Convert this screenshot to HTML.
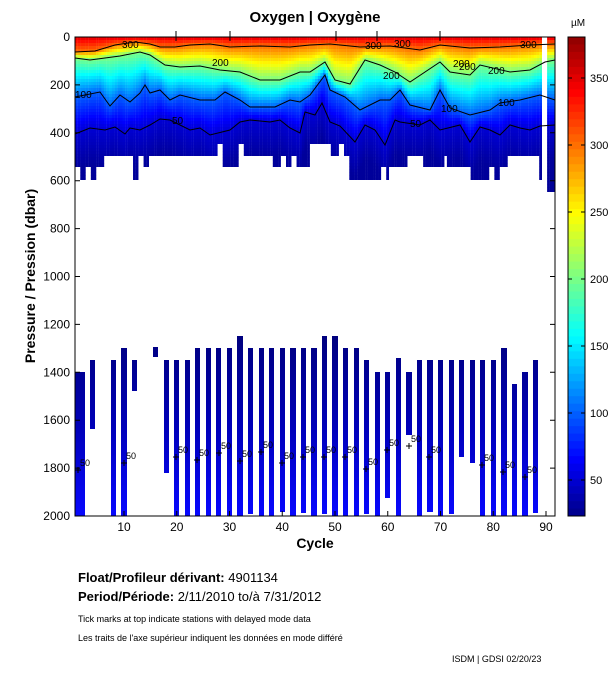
<!DOCTYPE html>
<html><head><meta charset="utf-8">
<style>
body{margin:0;background:#fff;width:611px;height:675px;overflow:hidden;font-family:"Liberation Sans",sans-serif;}
svg{position:absolute;left:0;top:0}
</style></head><body>
<svg id="s" width="611" height="675" xmlns="http://www.w3.org/2000/svg" font-family="Liberation Sans, sans-serif">
<defs>
<linearGradient id="bg" gradientUnits="userSpaceOnUse" x1="0" y1="336" x2="0" y2="516">
<stop offset="0" stop-color="#00007e"/><stop offset="0.5" stop-color="#0000b8"/><stop offset="1" stop-color="#0808ff"/>
</linearGradient>
</defs>
<g id="heat"></g>
<g id="bars" fill="url(#bg)"></g>
<g id="cont" fill="none" stroke="#000" stroke-width="1"></g>
<g id="cb"></g>
<rect x="75" y="37" width="480" height="479" fill="none" stroke="#000" stroke-width="1"/>
<rect x="568" y="37" width="17" height="479" fill="none" stroke="#000" stroke-width="1"/>
<g id="ticks" stroke="#000" stroke-width="1"></g>
<g font-size="12" fill="#000" id="lbl"></g>
<text x="315" y="22" font-size="15" font-weight="bold" text-anchor="middle">Oxygen | Oxygène</text>
<text x="578" y="26" font-size="10" text-anchor="middle">µM</text>
<text x="315" y="548" font-size="14" font-weight="bold" text-anchor="middle">Cycle</text>
<text transform="translate(35,276) rotate(-90)" font-size="14" font-weight="bold" text-anchor="middle">Pressure / Pression (dbar)</text>
<text x="78" y="582" font-size="13"><tspan font-weight="bold">Float/Profileur dérivant:</tspan> 4901134</text>
<text x="78" y="601" font-size="13"><tspan font-weight="bold">Period/Période:</tspan> 2/11/2010  to/à  7/31/2012</text>
<text x="78" y="622" font-size="9">Tick marks at top indicate stations with delayed mode data</text>
<text x="78" y="641" font-size="9">Les traits de l'axe supérieur indiquent les données en mode différé</text>
<text x="452" y="662" font-size="9">ISDM | GDSI  02/20/23</text>
</svg>
<script>
var NS="http://www.w3.org/2000/svg";
function el(p,t,a,txt){var e=document.createElementNS(NS,t);for(var k in a)e.setAttribute(k,a[k]);if(txt!==undefined)e.textContent=txt;document.getElementById(p).appendChild(e);return e;}
function jet(v){var t=(v-20)/365;t=Math.max(0,Math.min(1,t));function c(x){return Math.round(255*Math.max(0,Math.min(1,x)));}
return "rgb("+c(1.5-Math.abs(4*t-3))+","+c(1.5-Math.abs(4*t-2))+","+c(1.5-Math.abs(4*t-1))+")";}
var L300=[[75,52],[95,51],[115,45],[135,42],[150,44],[160,47],[175,47],[190,45],[210,44],[230,47],[260,46],[290,47],[310,45],[330,44],[360,47],[390,46],[420,50],[440,45],[470,48],[500,47],[530,45],[555,44]];
var L200=[[75,58],[90,60],[120,56],[140,52],[150,55],[165,65],[180,67],[200,66],[220,70],[240,72],[260,80],[280,80],[300,72],[310,72],[325,62],[335,80],[350,84],[365,60],[380,65],[395,72],[410,82],[440,62],[450,72],[470,75],[480,65],[510,72],[530,70],[545,62],[555,60]];
var L100=[[75,97],[100,92],[110,106],[120,95],[130,102],[140,93],[145,85],[150,93],[160,90],[170,100],[180,95],[200,100],[215,100],[225,92],[240,100],[250,107],[275,107],[290,100],[300,102],[310,95],[325,75],[330,90],[345,97],[360,110],[380,100],[390,100],[400,90],[410,105],[430,110],[440,90],[450,108],[470,115],[490,110],[500,103],[520,100],[540,95],[555,100]];
var L50=[[75,134],[90,128],[105,130],[115,127],[125,134],[130,128],[140,130],[150,125],[160,119],[170,120],[180,125],[190,130],[200,128],[210,135],[230,130],[240,122],[250,120],[270,122],[280,120],[290,128],[300,133],[305,112],[315,115],[322,103],[330,122],[340,126],[355,142],[365,125],[375,130],[385,145],[395,120],[400,122],[420,125],[430,120],[440,130],[460,125],[470,142],[480,127],[490,130],[500,135],[510,125],[520,128],[530,130],[540,126],[555,125]];
function interp(L,x){for(var i=1;i<L.length;i++){if(x<=L[i][0]){var a=L[i-1],b=L[i];return a[1]+(b[1]-a[1])*(x-a[0])/(b[0]-a[0]);}}return L[L.length-1][1];}
var BOT=[[79,167],[85,180],[90,167],[95,180],[105,167],[132,156],[137,180],[143,156],[148,167],[217,156],[222,144],[238,167],[243,144],[273,156],[280,167],[285,156],[290,167],[297,156],[310,167],[332,144],[338,156],[343,144],[348,156],[380,180],[385,167],[390,180],[407,167],[422,156],[443,167],[448,156],[470,167],[490,180],[495,167],[500,180],[507,167],[538,156],[543,180],[548,0],[555,192]];
function bot(x){for(var i=0;i<BOT.length;i++)if(x<BOT[i][0])return BOT[i][1];return 192;}
for(var x=75;x<555;x+=2.6375){
 var xc=x+1.3,b=bot(xc);if(b===0)continue;
 var y3=interp(L300,xc),y2=Math.max(y3+4,interp(L200,xc)),y1=Math.max(y2+4,interp(L100,xc)),y5=Math.max(y1+4,interp(L50,xc));
 var P=[[37,350],[y3,300],[y2,200],[y1,100],[y5,50],[y5+35,30],[300,22]];
 for(var y=37;y<b;y+=3){var yy=y+1.5,v=22;for(var i=1;i<P.length;i++){if(yy<=P[i][0]){v=P[i-1][1]+(P[i][1]-P[i-1][1])*(yy-P[i-1][0])/(P[i][0]-P[i-1][0]);break;}}
  el("heat","rect",{x:x.toFixed(2),y:y,width:2.8,height:Math.min(3.2,b-y),fill:jet(v)});}
}
[[300,L300],[200,L200],[100,L100],[50,L50]].forEach(function(q){el("cont","polyline",{points:q[1].map(function(p){return p.join(",")}).join(" ")});});
// bottom bars
var B=[[75,85,372,516],[90,95,360,429],[111,116,360,516],[121,127,348,516],[132,137,360,391],[153,158,347,357],[164,169,360,473],[174,179,360,516],[185,190,360,516],[195,200,348,516],[206,211,348,516],[216,221,348,516],[227,232,348,516],[237,243,336,516],[248,253,348,514],[259,264,348,516],[269,274,348,516],[280,285,348,512],[290,296,348,516],[301,306,348,513],[311,317,348,516],[322,327,336,514],[332,338,336,516],[343,348,348,516],[354,359,348,516],[364,369,360,514],[375,380,372,516],[385,390,372,498],[396,401,358,516],[406,412,372,435],[417,422,360,516],[427,433,360,512],[438,443,360,516],[449,454,360,514],[459,464,360,457],[470,475,360,463],[480,485,360,516],[491,496,360,516],[501,507,348,516],[512,517,384,516],[522,528,372,516],[533,538,360,513]];
B.forEach(function(b){el("bars","rect",{x:b[0],y:b[2],width:b[1]-b[0],height:b[3]-b[2]});});
var P50=[[78,470],[124,463],[176,457],[197,460],[219,453],[240,461],[261,452],[282,463],[303,457],[324,457],[345,457],[366,469],[387,450],[409,446],[429,457],[482,465],[503,472],[525,477]];
P50.forEach(function(p){el("cont","path",{d:"M"+(p[0]-3)+" "+p[1]+"h6M"+p[0]+" "+(p[1]-3)+"v6"});el("lbl","text",{x:p[0]+2,y:p[1]-4,"font-size":"9"},"50");});
[[122,48,"300"],[212,66,"200"],[75,98,"100"],[172,124,"50"],[365,49,"300"],[394,47,"300"],[453,67,"200"],[459,70,"200"],[488,74,"200"],[441,112,"100"],[498,106,"100"],[410,127,"50"],[520,48,"300"],[383,79,"200"]].forEach(function(p){el("lbl","text",{x:p[0],y:p[1],"font-size":"10"},p[2]);});
// colorbar
for(var i=0;i<64;i++){var y0=37+i*479/64;var v=380.6-(i+0.5)*(357.6/64);el("cb","rect",{x:568,y:y0.toFixed(2),width:17,height:(479/64+0.4).toFixed(2),fill:jet(v)});}
[50,100,150,200,250,300,350].forEach(function(v){var y=480-(v-50)*1.34;el("ticks","path",{d:"M568 "+y+"h4M585 "+y+"h-4"});el("lbl","text",{x:590,y:y+4,"font-size":"11"},v);});
for(var c=10;c<=90;c+=10){var x=124+(c-10)*5.275;el("ticks","path",{d:"M"+x+" 516v-5"});el("lbl","text",{x:x,y:531,"text-anchor":"middle"},c);}
for(var p=0;p<=2000;p+=200){var y=37+p*0.2395;el("ticks","path",{d:"M75 "+y+"h5M555 "+y+"h-5"});el("lbl","text",{x:70,y:y+4,"text-anchor":"end"},p);}
[176,230,336,377,440].forEach(function(x){el("ticks","path",{d:"M"+x+" 31v10"});});
</script>
</body></html>
